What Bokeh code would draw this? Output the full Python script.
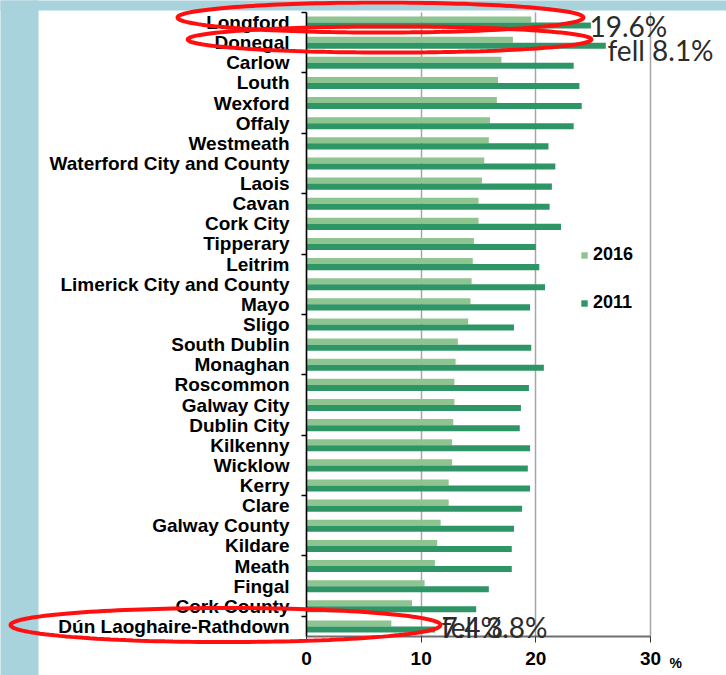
import numpy as np
from bokeh.plotting import figure
from bokeh.models import (Range1d, FixedTicker, Legend, LegendItem, Label,
                          PolyAnnotation, BoxAnnotation, ColumnDataSource)
from bokeh.embed import file_html
from bokeh.resources import INLINE

# ---------------- data ----------------
counties = ["Longford", "Donegal", "Carlow", "Louth", "Wexford", "Offaly",
            "Westmeath", "Waterford City and County", "Laois", "Cavan",
            "Cork City", "Tipperary", "Leitrim", "Limerick City and County",
            "Mayo", "Sligo", "South Dublin", "Monaghan", "Roscommon",
            "Galway City", "Dublin City", "Kilkenny", "Wicklow", "Kerry",
            "Clare", "Galway County", "Kildare", "Meath", "Fingal",
            "Cork County", "Dún Laoghaire-Rathdown"]
v2016 = [19.6, 18.0, 17.0, 16.7, 16.6, 16.0, 15.9, 15.5, 15.3, 15.0,
         15.0, 14.6, 14.5, 14.4, 14.3, 14.1, 13.2, 13.0, 12.9, 12.9,
         12.8, 12.7, 12.7, 12.4, 12.4, 11.7, 11.4, 11.2, 10.3, 9.2, 7.4]
v2011 = [24.8, 26.1, 23.3, 23.8, 24.0, 23.3, 21.1, 21.7, 21.4, 21.2,
         22.2, 20.0, 20.3, 20.8, 19.5, 18.1, 19.6, 20.7, 19.4, 18.7,
         18.6, 19.5, 19.3, 19.5, 18.8, 18.1, 17.9, 17.9, 15.9, 14.8, 11.2]
series_names = ["2016", "2011"]
x_ticks = [0, 10, 20, 30]
notes = [("Longford", "19.6%"), ("Donegal", "fell 8.1%"),
         ("Dún Laoghaire-Rathdown", "7.4%"),
         ("Dún Laoghaire-Rathdown", "fell 3.8%")]

LIGHT = "#8DC48F"
DARK = "#2E9566"
BLUE = "#A8D2DC"
RED = "#FF1010"
NOTE_C = "#2B2B2B"

n = len(counties)
ypos = [n - 1 - i for i in range(n)]          # Longford on top
yidx = dict(zip(counties, ypos))

src = ColumnDataSource(dict(
    y16=[y + 0.15 for y in ypos], y11=[y - 0.15 for y in ypos],
    v16=v2016, v11=v2011, name=counties))

# frame covers the whole canvas; axes sit at fixed data locations
W, H = 726, 675
px_x = 11.467          # pixels per % unit
px_y = 624.0 / n       # pixels per row
x0_px, ybot_px = 306, 636
x_range = Range1d(-x0_px / px_x, (W - x0_px) / px_x)
y_range = Range1d(-0.5 - (H - ybot_px) / px_y, n - 0.5 + 12 / px_y)

p = figure(width=W, height=H, output_backend="svg", toolbar_location=None,
           x_range=x_range, y_range=y_range,
           min_border=0, min_border_left=0, min_border_right=0,
           min_border_top=0, min_border_bottom=0,
           background_fill_color="white", border_fill_color="white",
           outline_line_color=None)

# page-like blue strips (decoration)
p.add_layout(BoxAnnotation(left=x_range.start - 5, right=(38 - x0_px) / px_x,
                           bottom=y_range.start - 5, top=y_range.end + 5,
                           fill_color=BLUE, fill_alpha=1, line_color=None,
                           level="underlay"))
p.add_layout(BoxAnnotation(left=x_range.start - 5, right=x_range.end + 5,
                           bottom=n - 0.5 + 2 / px_y, top=y_range.end + 5,
                           fill_color=BLUE, fill_alpha=1, line_color=None,
                           level="underlay"))

# grid
p.ygrid.visible = False
grid_ok = True
try:
    p.xgrid.cross_bounds = (-0.5, n - 0.5)
    p.xgrid.bounds = (0, 30)
except Exception:
    grid_ok = False
if grid_ok:
    p.xgrid.ticker = FixedTicker(ticks=x_ticks)
    p.xgrid.grid_line_color = "#A6A6A6"
    p.xgrid.grid_line_width = 1.5
else:
    p.xgrid.visible = False
    p.segment(x0=x_ticks, x1=x_ticks, y0=[-0.5] * len(x_ticks),
              y1=[n - 0.5] * len(x_ticks), line_color="#A6A6A6",
              line_width=1.5)

r16 = p.hbar(y="y16", right="v16", left=0, height=0.3, source=src,
             fill_color=LIGHT, line_color=None)
r11 = p.hbar(y="y11", right="v11", left=0, height=0.3, source=src,
             fill_color=DARK, line_color=None)

# x axis
xa = p.xaxis[0]
xa.fixed_location = -0.5
xa.bounds = (0, 30)
xa.ticker = FixedTicker(ticks=x_ticks)
xa.axis_line_color = "#6E6E6E"
xa.axis_line_width = 2
xa.major_tick_line_color = "#333333"
xa.major_tick_out = 6
xa.major_tick_in = 0
xa.minor_tick_out = 0
xa.minor_tick_in = 0
xa.major_label_text_font = "Liberation Sans"
xa.major_label_text_font_style = "bold"
xa.major_label_text_font_size = "19px"
xa.major_label_text_color = "black"
xa.major_label_standoff = 9

# y axis
ya = p.yaxis[0]
ya.fixed_location = 0
ya.bounds = (-0.5, n - 0.5)
ya.ticker = FixedTicker(ticks=ypos,
                        minor_ticks=[0.5 + 3 * k for k in range(11)])
ya.major_label_overrides = {y: c for c, y in yidx.items()}
ya.axis_line_color = "black"
ya.axis_line_width = 1.5
ya.major_tick_out = 0
ya.major_tick_in = 0
ya.minor_tick_out = 5
ya.minor_tick_in = 0
ya.minor_tick_line_color = "black"
ya.minor_tick_line_width = 1.5
ya.major_label_text_font = "Liberation Sans"
ya.major_label_text_font_style = "bold"
ya.major_label_text_font_size = "19px"
ya.major_label_text_color = "black"
ya.major_label_standoff = 12

# legend
legend = Legend(items=[LegendItem(label=series_names[0], renderers=[r16]),
                       LegendItem(label=series_names[1], renderers=[r11])],
                location=(580, 362), orientation="vertical",
                glyph_width=8, glyph_height=8, spacing=27, padding=0,
                margin=0, label_standoff=5,
                label_text_font="Liberation Sans", label_text_font_style="bold",
                label_text_font_size="18px", label_text_color="black",
                border_line_alpha=0, background_fill_alpha=0)
p.add_layout(legend)

# "%" unit label
p.add_layout(Label(x=31.66, y=-1.84, text="%", text_font="Liberation Sans",
                   text_font_style="bold", text_font_size="14px",
                   text_color="black", text_baseline="alphabetic"))

# red ellipses
def ellipse(cx, cy, rx, ry, m=160):
    t = np.linspace(0, 2 * np.pi, m)
    return list(cx + rx * np.cos(t)), list(cy + ry * np.sin(t))

for name, dx, dy, rx, ry in [("Longford", 6.45, 0.25, 17.7, 0.745),
                             ("Donegal", 7.24, 0.16, 17.6, 0.65),
                             ("Dún Laoghaire-Rathdown", -7.06, 0.07, 18.75, 0.845)]:
    xs, ys = ellipse(dx, yidx[name] + dy, rx, ry)
    p.add_layout(PolyAnnotation(xs=xs, ys=ys, fill_alpha=0, line_color=RED,
                                line_width=4, line_alpha=1))

# annotation texts
note_pos = [(24.68, -0.15), (26.25, -0.34), (11.77, -0.05), (11.77, -0.05)]
for (name, txt), (nx, dy) in zip(notes, note_pos):
    p.add_layout(Label(x=nx, y=yidx[name] + dy, text=txt, text_font="Lato",
                       text_font_size="28px", text_color=NOTE_C,
                       text_baseline="alphabetic"))

open("out.html", "w").write(file_html(p, INLINE))
